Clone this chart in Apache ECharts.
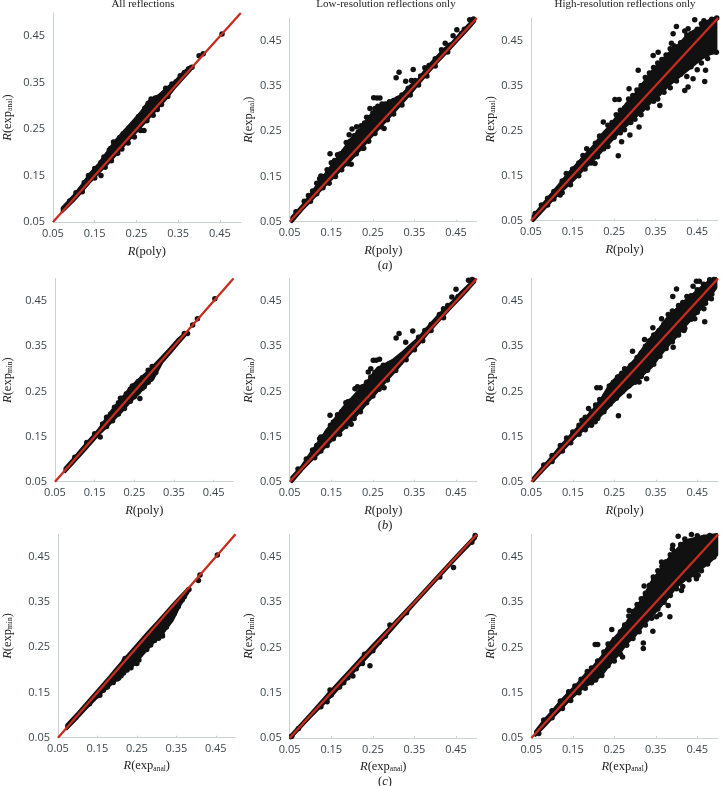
<!DOCTYPE html>
<html>
<head>
<meta charset="utf-8">
<style>
html,body{margin:0;padding:0;background:#fff}
#main{width:721px;height:786px}
</style>
<script src="https://cdn.jsdelivr.net/npm/echarts@6/dist/echarts.min.js"></script>
</head>
<body>
<div id="main"></div>
<script>
// tick labels shared by every axis
const tickValues = [0.05, 0.15, 0.25, 0.35, 0.45]
const lineEnds = [[0.05, 0.05], [0.5, 0.5]]
const columnTitles = ['All reflections', 'Low-resolution reflections only', 'High-resolution reflections only']

// The clouds are solid black in the source, so each one is read as an upper and
// lower edge (envelope) plus the dots that can be made out along and around it.

// (a) column 1
const a1X = [.072, .10, .12, .14, .16, .18, .20, .22, .24, .26, .28, .30, .32, .34, .36, .38]
const a1Up = [.08, .107, .13, .155, .175, .20, .225, .245, .265, .285, .31, .32, .335, .35, .37, .385]
const a1Lo = [.072, .097, .117, .138, .157, .175, .195, .215, .235, .255, .275, .295, .315, .338, .358, .378]
const a1Dots = [[.165, .15], [.40, .408], [.41, .412], [.455, .455], [.383, .383], [.375, .38], [.33, .34], [.32, .338], [.30, .292], [.268, .247], [.26, .248], [.285, .315], [.295, .317], [.255, .277], [.195, .222], [.185, .205], [.225, .245], [.24, .258],
  [.09, .095], [.105, .113], [.125, .135], [.135, .15], [.15, .165], [.165, .178], [.172, .19], [.188, .208], [.198, .218], [.21, .232], [.218, .24], [.232, .252], [.245, .262], [.252, .27], [.265, .283], [.27, .295], [.278, .305], [.288, .313], [.30, .318], [.315, .328], [.335, .347], [.345, .352], [.355, .365], [.365, .372],
  [.12, .115], [.15, .145], [.175, .168], [.19, .182], [.205, .198], [.215, .207], [.23, .22], [.245, .233], [.26, .247], [.275, .268], [.29, .28], [.31, .303], [.325, .32]]
// (a) column 2
const a2X = [.055, .08, .10, .12, .14, .16, .18, .20, .22, .24, .26, .28, .30, .32, .34, .36, .38, .40, .42, .44, .46, .48, .495]
const a2Up = [.06, .085, .11, .135, .16, .185, .21, .235, .255, .28, .30, .31, .32, .33, .35, .365, .39, .41, .43, .445, .465, .485, .498]
const a2Lo = [.05, .077, .096, .116, .135, .153, .172, .19, .21, .232, .252, .272, .292, .312, .333, .355, .377, .398, .417, .437, .457, .477, .493]
const a2Dots = [[.147, .20], [.193, .242], [.211, .26], [.20, .255], [.125, .151], [.252, .324], [.267, .323], [.26, .323], [.243, .30], [.235, .281], [.313, .38], [.306, .368], [.347, .386], [.329, .36], [.343, .362], [.424, .444], [.452, .474], [.443, .461], [.463, .466], [.483, .496], [.492, .498], [.277, .256], [.198, .177], [.228, .212],
  [.065, .072], [.085, .095], [.095, .108], [.105, .118], [.115, .135], [.122, .145], [.13, .15], [.14, .165], [.15, .18], [.158, .185], [.165, .198], [.172, .20], [.18, .205], [.186, .225], [.195, .228], [.205, .24], [.215, .248], [.222, .262], [.23, .268], [.24, .278], [.25, .29], [.255, .30], [.262, .305], [.272, .31], [.28, .31], [.29, .315], [.30, .318], [.31, .322], [.32, .33], [.335, .345], [.352, .362], [.365, .372], [.375, .39], [.385, .395], [.40, .41], [.415, .43], [.435, .44], [.47, .475],
  [.10, .095], [.115, .112], [.13, .125], [.145, .135], [.16, .15], [.175, .165], [.19, .178], [.21, .20], [.225, .212], [.24, .228], [.255, .245], [.27, .26], [.285, .275], [.30, .288], [.32, .308], [.34, .33], [.36, .352], [.38, .372], [.40, .394], [.43, .425]]
// (a) column 3
const a3X = [.055, .08, .10, .12, .14, .16, .18, .20, .22, .24, .26, .28, .30, .32, .34, .36, .38, .40, .42, .44, .46, .48, .495]
const a3Up = [.06, .088, .11, .132, .155, .175, .195, .215, .24, .26, .285, .31, .33, .355, .38, .40, .42, .435, .455, .47, .48, .495, .50]
const a3Lo = [.05, .075, .095, .113, .13, .148, .168, .185, .205, .225, .245, .262, .28, .295, .315, .33, .35, .365, .38, .395, .41, .42, .43]
const a3Dots = [[.26, .194], [.252, .319], [.262, .319], [.308, .384], [.286, .343], [.356, .424], [.344, .417], [.40, .481], [.392, .465], [.388, .444], [.42, .471], [.428, .476], [.444, .496], [.466, .494], [.468, .359], [.47, .384], [.44, .365], [.428, .347], [.42, .339], [.36, .306], [.31, .258], [.288, .24], [.268, .225], [.204, .177], [.12, .107], [.06, .066], [.14, .151], [.184, .21], [.224, .269], [.484, .424], [.496, .424],
  [.075, .085], [.09, .10], [.105, .115], [.125, .138], [.135, .155], [.15, .165], [.165, .178], [.175, .195], [.19, .205], [.205, .222], [.215, .238], [.23, .245], [.235, .262], [.245, .268], [.255, .285], [.265, .295], [.275, .30], [.285, .32], [.295, .328], [.305, .34], [.315, .35], [.325, .368], [.335, .378], [.345, .39], [.355, .40], [.365, .408], [.375, .418], [.385, .432], [.395, .438], [.41, .445], [.425, .462], [.435, .465], [.45, .475], [.46, .487], [.475, .49], [.485, .497], [.497, .50],
  [.09, .085], [.105, .098], [.125, .112], [.145, .13], [.165, .15], [.18, .165], [.195, .178], [.21, .192], [.225, .21], [.235, .215], [.25, .235], [.265, .245], [.275, .252], [.29, .268], [.30, .275], [.315, .285], [.33, .30], [.345, .315], [.355, .32], [.37, .335], [.385, .345], [.40, .36], [.41, .375], [.425, .37], [.435, .392], [.45, .385], [.46, .40], [.475, .41], [.49, .425]]
// (b) column 1
const b1X = [.075, .10, .12, .14, .16, .18, .20, .22, .24, .26, .28, .30, .32, .34, .36, .38]
const b1Up = [.08, .104, .125, .145, .165, .19, .215, .235, .258, .275, .29, .308, .326, .345, .365, .38]
const b1Lo = [.072, .096, .115, .135, .155, .172, .19, .208, .228, .245, .265, .283, .315, .335, .356, .376]
const b1Dots = [[.264, .234], [.164, .149], [.384, .378], [.376, .378], [.397, .397], [.409, .411], [.453, .455], [.304, .292], [.292, .277], [.275, .26], [.215, .235], [.245, .262],
  [.10, .104], [.13, .137], [.15, .156], [.17, .178], [.18, .193], [.19, .20], [.20, .215], [.21, .225], [.22, .235], [.23, .245], [.24, .255], [.25, .262], [.26, .272], [.27, .28], [.285, .297], [.295, .305],
  [.18, .172], [.195, .185], [.21, .20], [.225, .212], [.24, .228], [.25, .238], [.26, .25], [.27, .257], [.285, .27], [.295, .28]]
// (b) column 2
const b2X = [.055, .08, .10, .12, .14, .16, .18, .20, .22, .24, .26, .28, .30, .32, .34, .36, .38, .40, .42, .44, .46, .48, .495]
const b2Up = [.06, .085, .112, .138, .165, .19, .215, .235, .255, .275, .30, .31, .32, .335, .352, .368, .39, .41, .43, .447, .467, .485, .498]
const b2Lo = [.05, .077, .096, .113, .132, .15, .168, .187, .207, .23, .25, .272, .292, .313, .335, .355, .377, .398, .418, .438, .457, .477, .493]
const b2Dots = [[.147, .197], [.207, .256], [.213, .26], [.125, .149], [.251, .319], [.266, .321], [.258, .319], [.239, .293], [.245, .30], [.313, .378], [.306, .368], [.346, .384], [.329, .359], [.45, .476], [.44, .459], [.42, .433], [.48, .496], [.489, .498], [.277, .258], [.198, .177], [.19, .227],
  [.07, .078], [.09, .10], [.105, .12], [.115, .13], [.122, .145], [.13, .148], [.14, .16], [.148, .175], [.155, .182], [.165, .198], [.175, .205], [.185, .225], [.195, .228], [.205, .235], [.215, .245], [.225, .26], [.235, .27], [.245, .282], [.255, .292], [.265, .30], [.275, .308], [.29, .312], [.30, .315], [.315, .322], [.33, .335], [.345, .35], [.36, .37], [.375, .385], [.39, .398], [.41, .42], [.43, .44], [.455, .46],
  [.11, .103], [.125, .118], [.14, .13], [.155, .145], [.17, .155], [.185, .172], [.205, .19], [.22, .205], [.235, .225], [.25, .24], [.265, .255], [.285, .275], [.305, .296], [.33, .32], [.35, .342], [.37, .362], [.39, .385], [.42, .413]]
// (b) column 3
const b3X = [.055, .08, .10, .12, .14, .16, .18, .20, .22, .24, .26, .28, .30, .32, .34, .36, .38, .40, .42, .44, .46, .48, .495]
const b3Up = [.058, .085, .105, .128, .148, .168, .19, .21, .235, .265, .285, .30, .32, .345, .37, .39, .415, .432, .45, .465, .48, .495, .50]
const b3Lo = [.052, .077, .096, .115, .134, .153, .168, .18, .20, .22, .238, .255, .27, .288, .305, .33, .352, .372, .395, .415, .435, .46, .48]
const b3Dots = [[.26, .196], [.208, .258], [.216, .258], [.286, .24], [.328, .278], [.31, .271], [.343, .391], [.323, .365], [.364, .411], [.40, .477], [.391, .46], [.468, .404], [.448, .494], [.455, .494], [.44, .483], [.392, .348], [.294, .339], [.172, .186], [.188, .212], [.204, .183], [.418, .385], [.444, .411], [.466, .433], [.484, .455],
  [.08, .087], [.10, .108], [.12, .13], [.135, .147], [.15, .16], [.165, .175], [.18, .193], [.195, .205], [.205, .22], [.215, .232], [.228, .24], [.238, .262], [.248, .27], [.258, .282], [.268, .29], [.275, .30], [.29, .308], [.305, .325], [.315, .335], [.325, .35], [.335, .362], [.345, .375], [.358, .385], [.37, .40], [.38, .42], [.39, .428], [.405, .44], [.415, .447], [.425, .46], [.435, .462], [.45, .475], [.465, .487], [.48, .497], [.49, .498],
  [.10, .095], [.125, .118], [.145, .136], [.165, .155], [.18, .165], [.195, .175], [.21, .19], [.225, .205], [.24, .222], [.255, .235], [.27, .25], [.285, .262], [.30, .27], [.315, .283], [.33, .297], [.345, .31], [.36, .328], [.375, .345], [.39, .36], [.405, .375], [.42, .39], [.435, .41], [.45, .425], [.47, .445], [.485, .465]]
// (c) column 1
const c1X = [.072, .10, .12, .14, .16, .18, .20, .22, .24, .26, .28, .30, .32, .34, .36, .38]
const c1Up = [.078, .104, .124, .144, .164, .184, .205, .225, .245, .265, .285, .304, .323, .343, .362, .38]
const c1Lo = [.07, .095, .114, .132, .15, .165, .18, .195, .21, .23, .25, .27, .287, .31, .345, .372]
const c1Dots = [[.204, .182], [.216, .193], [.156, .144], [.218, .221], [.314, .28], [.314, .291], [.338, .32], [.406, .398], [.41, .41], [.454, .454], [.382, .378], [.37, .362], [.274, .247], [.25, .214], [.222, .203],
  [.13, .125], [.15, .143], [.165, .155], [.175, .162], [.19, .172], [.20, .18], [.21, .187], [.225, .20], [.235, .205], [.245, .215], [.255, .222], [.265, .24], [.275, .245], [.285, .255], [.295, .265], [.305, .27], [.315, .275], [.325, .295], [.335, .31], [.345, .325], [.355, .34], [.365, .355], [.22, .225]]
// (c) column 2
const c2X = [.052, .10, .15, .20, .25, .30, .35, .40, .45, .497]
const c2Up = [.055, .103, .155, .205, .255, .303, .352, .402, .452, .498]
const c2Lo = [.05, .097, .143, .193, .243, .295, .347, .397, .447, .492]
const c2Dots = [[.243, .21], [.444, .427], [.291, .30], [.202, .187], [.125, .119], [.14, .13], [.147, .156], [.331, .327], [.411, .406], [.488, .483], [.496, .498], [.055, .054], [.071, .071],
  [.15, .145], [.17, .163], [.18, .172], [.19, .183], [.21, .203], [.225, .215], [.23, .235], [.25, .243], [.265, .262], [.28, .275], [.148, .15]]
// (c) column 3
const c3X = [.06, .08, .10, .12, .14, .16, .18, .20, .22, .24, .26, .28, .30, .32, .34, .36, .38, .40, .42, .44, .46, .48, .497]
const c3Up = [.064, .088, .108, .13, .15, .168, .19, .208, .23, .26, .28, .305, .335, .36, .395, .42, .445, .465, .485, .49, .495, .498, .50]
const c3Lo = [.056, .075, .095, .113, .133, .15, .165, .175, .19, .215, .235, .26, .277, .30, .32, .34, .362, .385, .40, .41, .425, .44, .455]
const c3Dots = [[.343, .286], [.32, .26], [.32, .248], [.384, .318], [.36, .323], [.244, .29], [.21, .257], [.204, .257], [.322, .386], [.068, .06], [.27, .229], [.404, .496], [.436, .50], [.39, .468], [.391, .476], [.452, .41], [.448, .402], [.286, .332], [.344, .406], [.364, .439], [.466, .494], [.412, .376], [.38, .343], [.352, .318],
  [.08, .09], [.10, .11], [.12, .132], [.14, .152], [.155, .165], [.17, .18], [.185, .197], [.195, .205], [.21, .22], [.225, .24], [.235, .258], [.25, .268], [.265, .285], [.275, .30], [.285, .32], [.295, .33], [.305, .345], [.315, .358], [.325, .37], [.335, .388], [.345, .40], [.355, .42], [.365, .43], [.375, .44], [.385, .455], [.395, .462], [.41, .478], [.42, .49], [.43, .485], [.45, .497], [.48, .498],
  [.10, .095], [.125, .115], [.145, .133], [.165, .15], [.18, .16], [.195, .172], [.205, .178], [.22, .188], [.235, .21], [.25, .22], [.265, .235], [.28, .255], [.295, .27], [.31, .285], [.325, .30], [.34, .315], [.355, .335], [.37, .35], [.385, .365], [.40, .38], [.415, .385], [.43, .40], [.445, .41], [.46, .42], [.475, .435], [.49, .45]]

const INK = '#111111'
const RED = '#c62d20'

// pixel box of each panel: x at 0.05, x at 0.50, y at 0.05, y at 0.50, then name gaps
const panels = [
  { x: a1X, up: a1Up, lo: a1Lo, dots: a1Dots, box: [44.3, 240.8, 222, 13], gap: 39, xGap: 23, xName: 'poly', yName: 'anal' },
  { x: a2X, up: a2Up, lo: a2Lo, dots: a2Dots, box: [289.7, 476.8, 221.7, 18], gap: 34, xGap: 23, xName: 'poly', yName: 'anal' },
  { x: a3X, up: a3Up, lo: a3Lo, dots: a3Dots, box: [531, 718, 220.7, 18], gap: 34, xGap: 23, xName: 'poly', yName: 'anal' },
  { x: b1X, up: b1Up, lo: b1Lo, dots: b1Dots, box: [46, 233.5, 481.7, 278.5], gap: 41, xGap: 23, xName: 'poly', yName: 'min' },
  { x: b2X, up: b2Up, lo: b2Lo, dots: b2Dots, box: [289.7, 476.8, 481.7, 278.5], gap: 34, xGap: 23, xName: 'poly', yName: 'min' },
  { x: b3X, up: b3Up, lo: b3Lo, dots: b3Dots, box: [531.3, 718, 481.7, 278.5], gap: 34, xGap: 23, xName: 'poly', yName: 'min' },
  { x: c1X, up: c1Up, lo: c1Lo, dots: c1Dots, box: [48.3, 235.5, 737.7, 534.3], gap: 44, xGap: 22, xName: 'anal', yName: 'min' },
  { x: c2X, up: c2Up, lo: c2Lo, dots: c2Dots, box: [289.7, 476.8, 738, 534.5], gap: 34, xGap: 22, xName: 'anal', yName: 'min' },
  { x: c3X, up: c3Up, lo: c3Lo, dots: c3Dots, box: [531.3, 718, 738, 534.5], gap: 34, xGap: 22, xName: 'anal', yName: 'min' }
]

const nameRich = {
  i: { fontFamily: 'Liberation Serif', fontStyle: 'italic', fontSize: 12.5, color: '#222' },
  n: { fontFamily: 'Liberation Serif', fontSize: 12.5, color: '#222' },
  s: { fontFamily: 'Liberation Serif', fontSize: 7.5, color: '#222', padding: [5, 0, 0, 0] }
}
const axisName = (name) => name === 'poly'
  ? '{i|R}{n|(poly)}'
  : `{i|R}{n|(exp}{s|${name}}{n|)}`

const axisBase = (gridIndex, margin) => ({
  type: 'value',
  gridIndex,
  min: 0.05,
  max: 0.5,
  splitLine: { show: false },
  axisLine: { lineStyle: { color: '#ccd2d2', width: 1 } },
  axisTick: { show: false },
  axisLabel: {
    customValues: tickValues,
    formatter: (v) => v.toFixed(2),
    fontFamily: 'Open Sans',
    fontSize: 11,
    color: '#3c474c',
    margin
  },
  nameLocation: 'middle',
  nameTextStyle: { rich: nameRich }
})

const grid = [], xAxis = [], yAxis = [], series = []
panels.forEach((p, i) => {
  const [x0, x1, y0, y1] = p.box
  grid.push({ left: x0, top: y1, width: x1 - x0, height: y0 - y1 })
  xAxis.push({
    ...axisBase(i, 6),
    axisTick: { show: true, inside: true, length: 2, customValues: tickValues, lineStyle: { color: '#ccd2d2' } },
    name: axisName(p.xName),
    nameGap: p.xGap
  })
  yAxis.push({ ...axisBase(i, 8), name: axisName(p.yName), nameGap: p.gap })
  series.push({
    type: 'custom',
    xAxisIndex: i,
    yAxisIndex: i,
    coordinateSystem: 'cartesian2d',
    silent: true,
    clip: false,
    z: 2,
    data: [[p.x[0], p.up[0]]],
    renderItem: (params, api) => {
      const top = p.x.map((x, k) => api.coord([x, p.up[k]]))
      const bottom = p.x.map((x, k) => api.coord([x, p.lo[k]])).reverse()
      // stroke of about half a dot, the edges were read near the dot centres
      return {
        type: 'polygon',
        shape: { points: top.concat(bottom) },
        style: { fill: INK, stroke: INK, lineWidth: 3, lineJoin: 'round' }
      }
    }
  })
  series.push({
    type: 'scatter',
    xAxisIndex: i,
    yAxisIndex: i,
    data: p.dots,
    symbolSize: 5.5,
    itemStyle: { color: INK, opacity: 1 },
    clip: false,
    silent: true,
    z: 3
  })
  series.push({
    type: 'line',
    xAxisIndex: i,
    yAxisIndex: i,
    data: lineEnds,
    showSymbol: false,
    silent: true,
    clip: false,
    lineStyle: { color: RED, width: 2.3 },
    z: 4
  })
})

const titles = [
  { text: columnTitles[0], left: 143, top: -1 },
  { text: columnTitles[1], left: 386, top: -1 },
  { text: columnTitles[2], left: 625, top: -1 },
  { text: '{n|(}{i|a}{n|)}', left: 385, top: 259 },
  { text: '{n|(}{i|b}{n|)}', left: 385, top: 519 },
  { text: '{n|(}{i|c}{n|)}', left: 385, top: 775 }
].map((t) => ({
  ...t,
  textAlign: 'center',
  padding: 0,
  textStyle: { fontFamily: 'Liberation Serif', fontSize: 11, fontWeight: 'normal', color: '#222', rich: nameRich }
}))

const chart = echarts.init(document.getElementById('main'), null, { renderer: 'canvas' })
chart.setOption({
  animation: false,
  backgroundColor: '#fff',
  title: titles,
  grid,
  xAxis,
  yAxis,
  series
})
window.addEventListener('resize', () => chart.resize())
</script>
</body>
</html>
